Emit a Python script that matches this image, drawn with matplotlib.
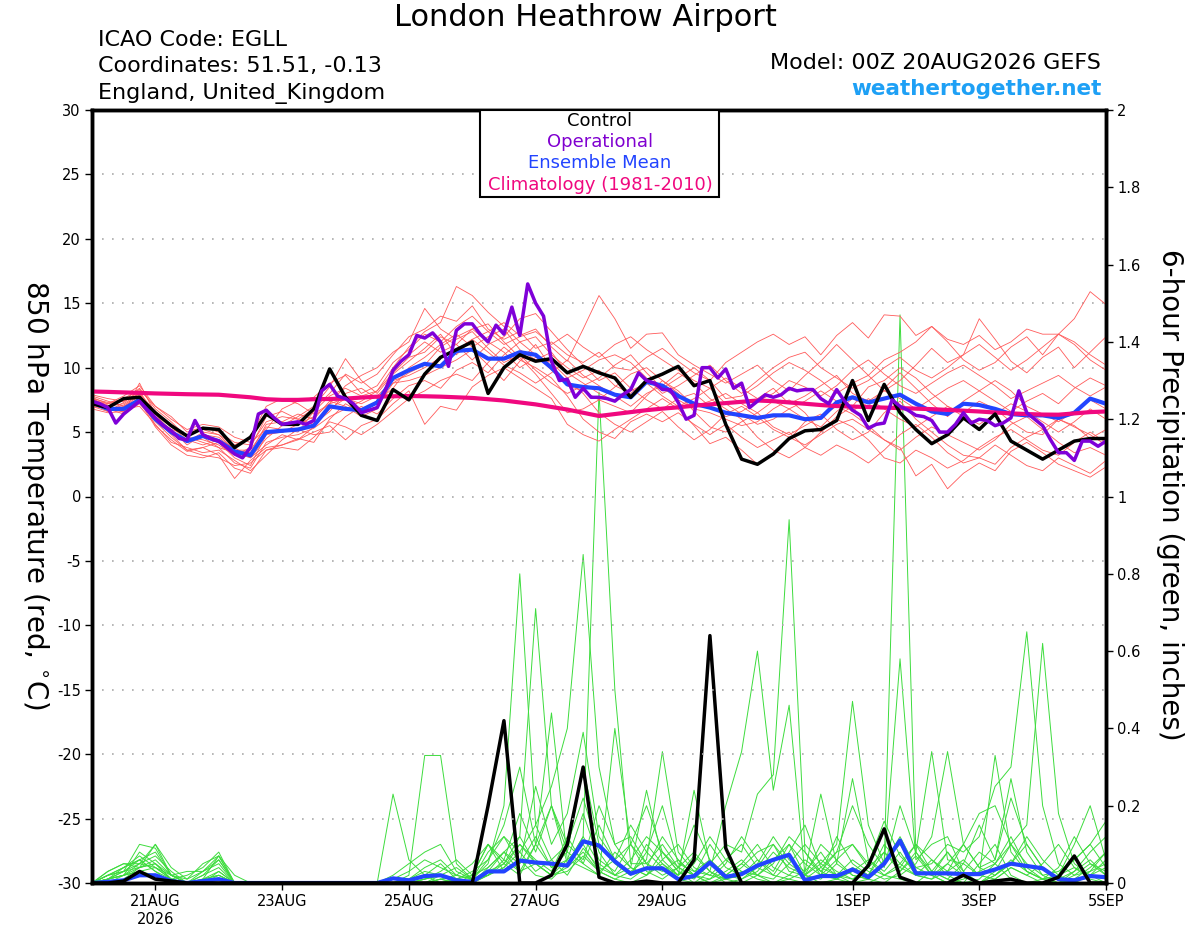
import numpy as np
import matplotlib
matplotlib.use("Agg")
import matplotlib.pyplot as plt
from matplotlib.patches import Rectangle

plt.rcParams['font.family'] = ['DejaVu Sans']
plt.rcParams['axes.unicode_minus'] = False

# x: 6-hourly GEFS steps and 3-hourly operational steps, in days after 20AUG 00Z
n6 = 65
n3 = 129
tick_days = [1, 3, 5, 7, 9, 12, 14, 16]
tick_labels = ["21AUG\n2026", "23AUG", "25AUG", "27AUG", "29AUG", "1SEP", "3SEP", "5SEP"]

# 850 hPa temperature (degC)
ctrl_temp = [7.2, 6.9, 7.6, 7.7, 6.5, 5.5, 4.7, 5.3, 5.2, 3.8, 4.6,
             6.4, 5.6, 5.6, 6.8, 9.9, 7.7, 6.3, 5.9, 8.3, 7.5,
             9.5, 10.8, 11.4, 12.0, 8.0, 10.0, 11.0, 10.5, 10.7, 9.6,
             10.1, 9.6, 9.2, 7.7, 9.0, 9.5, 10.1, 8.6, 9.0, 5.6,
             2.9, 2.5, 3.3, 4.5, 5.1, 5.2, 5.9, 9.0, 5.9, 8.7,
             6.5, 5.2, 4.1, 4.8, 6.1, 5.2, 6.4, 4.3, 3.6, 2.9, 3.6, 4.3, 4.5, 4.5]

mean_temp = [7.3, 6.8, 6.8, 7.5, 6.0, 5.0, 4.3, 4.7, 4.3, 3.5, 3.2,
             5.0, 5.1, 5.2, 5.5, 7.0, 6.8, 6.7, 7.3, 9.2, 9.8,
             10.3, 10.1, 11.3, 11.4, 10.7, 10.7, 11.2, 11.0, 10.0, 8.7,
             8.5, 8.4, 7.9, 7.7, 8.9, 8.6, 7.8, 7.2, 6.9, 6.5,
             6.3, 6.1, 6.3, 6.3, 6.0, 6.1, 7.3, 7.7, 7.3, 7.6,
             7.9, 7.2, 6.6, 6.4, 7.2, 7.1, 6.8, 6.4, 6.3, 6.3, 6.1, 6.5, 7.6, 7.2]

clim_temp = [8.15, 8.12, 8.08, 8.04, 8.0, 7.97, 7.94, 7.92, 7.9, 7.8, 7.7,
             7.55, 7.5, 7.5, 7.55, 7.57, 7.6, 7.68, 7.75, 7.78, 7.8,
             7.78, 7.75, 7.7, 7.65, 7.55, 7.45, 7.3, 7.15, 6.95, 6.75,
             6.5, 6.25, 6.4, 6.55, 6.7, 6.82, 6.92, 7.05, 7.15, 7.25,
             7.35, 7.45, 7.4, 7.3, 7.2, 7.1, 7.02, 6.98, 6.94, 6.9,
             6.86, 6.82, 6.78, 6.72, 6.66, 6.6, 6.52, 6.45, 6.4, 6.36, 6.35, 6.45, 6.55, 6.6]

oper_temp = [7.4, 7.2, 6.9, 5.7, 6.4, 6.9, 7.4, 6.7,
             6.1, 5.5, 5.1, 4.5, 4.4, 5.9, 4.8, 4.5,
             4.3, 3.8, 3.3, 3.0, 3.8, 6.4, 6.7, 6.1,
             5.6, 5.7, 5.8, 5.6, 5.9, 8.2, 8.7, 7.8,
             7.6, 7.2, 6.5, 6.7, 6.9, 8.2, 9.8, 10.5,
             11.0, 12.5, 12.3, 12.7, 12.0, 10.1, 12.9, 13.4,
             13.4, 12.6, 12.0, 13.3, 12.6, 14.7, 12.5, 16.5,
             15.0, 14.0, 10.5, 9.0, 9.1, 7.7, 8.4, 7.7,
             7.7, 7.6, 7.4, 7.9, 8.3, 9.6, 9.0, 8.8,
             8.3, 8.3, 7.3, 6.0, 6.3, 10.0, 10.0, 9.2,
             9.9, 8.4, 8.8, 6.9, 7.4, 7.9, 7.7, 7.9,
             8.4, 8.2, 8.3, 8.3, 7.6, 7.2, 8.3, 7.4,
             6.7, 6.3, 5.3, 5.6, 5.7, 7.5, 7.0, 6.7,
             6.3, 6.2, 5.9, 5.0, 5.0, 5.6, 6.5, 5.7,
             6.0, 5.9, 5.5, 5.7, 6.1, 8.2, 6.5, 6.0,
             5.5, 4.4, 3.4, 3.4, 2.8, 4.3, 4.3, 3.9,
             4.3]

ens_temp = [
    [7.5, 7.2, 7.8, 8.6, 7.0, 6.2, 5.0, 5.4, 5.0, 4.2, 4.0,
     5.8, 6.2, 6.0, 6.8, 8.0, 9.5, 8.8, 9.5, 11.0, 12.4,
     13.0, 14.0, 13.6, 14.8, 13.0, 12.2, 12.8, 11.5, 12.0, 11.0,
     10.4, 11.2, 10.0, 9.8, 10.8, 11.5, 10.5, 9.6, 9.0, 10.4,
     11.2, 12.0, 12.6, 11.8, 12.4, 11.0, 12.5, 13.5, 12.3, 14.1,
     14.0, 12.5, 13.2, 12.2, 11.8, 12.5, 11.4, 12.0, 13.0, 12.6, 12.6, 13.8, 15.9, 14.9],
    [7.0, 6.6, 7.3, 8.2, 6.2, 5.0, 4.2, 4.6, 3.8, 2.6, 2.2,
     4.2, 4.6, 4.8, 5.3, 6.2, 6.8, 7.4, 8.2, 10.0, 11.6,
     12.8, 13.5, 16.3, 15.6, 14.3, 13.2, 12.0, 12.4, 11.0, 10.0,
     9.2, 9.8, 8.6, 8.0, 9.0, 8.5, 7.5, 6.8, 6.5, 6.0,
     5.5, 5.8, 6.8, 7.5, 6.5, 5.0, 6.2, 7.0, 8.5, 9.0,
     10.0, 9.2, 8.0, 7.0, 6.5, 7.4, 6.8, 5.8, 5.0, 4.8, 6.0, 5.5, 4.5, 5.2],
    [7.8, 7.4, 7.0, 7.8, 5.5, 4.4, 3.5, 3.8, 3.2, 1.4, 2.8,
     3.8, 4.0, 4.5, 4.2, 6.0, 7.2, 6.5, 7.0, 8.8, 9.6,
     10.2, 11.6, 12.4, 13.0, 13.4, 12.0, 10.8, 9.5, 8.0, 6.5,
     6.8, 7.5, 8.5, 9.5, 10.0, 9.0, 8.2, 7.0, 7.4, 8.0,
     7.2, 6.5, 5.4, 4.8, 5.5, 6.2, 7.0, 6.4, 5.5, 4.4,
     3.8, 1.6, 2.5, 0.6, 1.8, 2.6, 2.0, 3.5, 4.2, 3.4, 2.5, 2.0, 1.5, 2.3],
    [7.6, 7.0, 7.2, 8.0, 6.6, 5.4, 4.4, 4.0, 4.4, 3.8, 3.0,
     4.5, 5.5, 6.2, 7.0, 8.5, 10.7, 9.0, 8.0, 9.5, 10.5,
     11.5, 12.6, 11.0, 12.2, 12.8, 13.5, 12.5, 13.0, 11.6, 10.5,
     13.0, 15.6, 13.8, 11.5, 12.6, 12.7, 11.0, 10.2, 9.5, 8.8,
     9.5, 10.2, 9.0, 8.2, 9.4, 10.5, 11.8, 10.6, 9.4, 8.2,
     9.0, 10.2, 11.5, 10.4, 11.0, 13.8, 12.2, 10.5, 9.6, 10.8, 11.6, 10.0, 11.2, 12.4],
    [7.0, 6.8, 6.4, 7.2, 5.8, 4.6, 3.6, 3.2, 3.0, 2.4, 2.6,
     3.6, 4.0, 4.4, 5.0, 5.5, 4.4, 5.5, 6.0, 7.2, 8.2,
     5.6, 7.0, 6.7, 8.5, 9.4, 10.0, 9.2, 8.4, 7.6, 5.6,
     4.8, 4.3, 5.2, 6.0, 6.8, 7.6, 6.8, 5.5, 4.1, 4.6,
     3.6, 2.5, 3.2, 4.4, 5.8, 6.4, 5.2, 4.4, 5.0, 6.5,
     7.4, 6.0, 5.0, 4.0, 3.2, 3.0, 2.5, 3.8, 4.6, 5.2, 6.0, 5.4, 4.8, 4.0],
    [7.3, 6.6, 7.0, 7.6, 6.2, 5.2, 4.0, 4.8, 4.6, 3.6, 3.4,
     5.6, 5.8, 6.4, 6.0, 7.4, 7.0, 6.2, 6.8, 9.8, 11.0,
     12.0, 11.2, 11.8, 10.6, 11.8, 12.4, 13.8, 14.2, 12.8, 11.4,
     10.2, 9.0, 9.6, 8.4, 7.5, 6.8, 7.6, 8.0, 7.0, 6.2,
     6.6, 7.4, 8.0, 9.0, 8.5, 7.8, 8.6, 9.8, 10.6, 9.5,
     8.6, 8.0, 8.8, 9.6, 10.2, 9.4, 8.6, 7.6, 8.2, 8.8, 9.4, 8.5, 7.8, 8.5],
    [7.7, 7.2, 7.4, 8.4, 6.8, 5.8, 4.6, 4.4, 4.0, 3.2, 3.8,
     6.2, 6.6, 6.0, 5.6, 6.6, 8.0, 8.4, 7.6, 8.8, 9.0,
     9.4, 10.0, 10.6, 11.4, 10.2, 9.0, 10.5, 11.8, 10.0, 8.6,
     8.2, 7.5, 7.0, 6.5, 7.8, 9.0, 8.0, 6.6, 5.4, 5.0,
     5.8, 6.5, 7.4, 6.8, 6.0, 5.4, 6.6, 7.6, 7.0, 8.4,
     9.6, 8.4, 7.2, 6.2, 7.4, 8.2, 9.0, 8.2, 7.0, 6.4, 5.8, 6.6, 7.5, 6.8],
    [7.1, 6.9, 6.8, 7.0, 5.6, 4.2, 3.8, 3.4, 3.6, 2.8, 2.0,
     3.2, 4.4, 5.2, 4.8, 5.0, 6.2, 7.0, 6.4, 7.6, 8.6,
     9.0, 8.4, 9.8, 10.4, 9.6, 11.0, 12.0, 11.0, 9.8, 9.0,
     8.0, 6.5, 5.6, 5.0, 5.8, 6.6, 5.4, 4.4, 5.2, 6.4,
     7.0, 6.2, 5.2, 4.6, 4.0, 4.8, 5.6, 6.0, 5.2, 4.4,
     3.6, 4.6, 5.4, 4.8, 4.2, 3.6, 4.4, 5.6, 6.2, 5.2, 4.2, 3.4, 3.8, 3.2],
    [7.5, 7.1, 6.5, 8.8, 6.4, 5.0, 4.2, 5.0, 4.8, 4.0, 4.6,
     7.0, 7.6, 7.2, 6.4, 7.2, 8.6, 9.4, 10.0, 11.2, 12.0,
     14.6, 13.0, 12.2, 12.8, 11.5, 10.4, 11.0, 9.8, 8.8, 8.0,
     8.6, 9.2, 10.2, 11.0, 9.6, 8.4, 9.2, 10.0, 9.0, 7.6,
     7.8, 8.6, 9.6, 10.4, 9.8, 9.0, 8.0, 8.8, 9.4, 10.6,
     11.2, 12.0, 13.2, 12.0, 10.6, 9.8, 10.4, 11.6, 12.4, 11.0, 12.6, 11.8, 10.6, 9.8],
    [6.8, 6.5, 6.6, 7.4, 5.4, 4.0, 3.2, 3.0, 3.4, 2.2, 1.8,
     3.6, 3.8, 3.6, 4.6, 5.8, 5.4, 4.8, 5.6, 6.6, 7.6,
     8.2, 9.0, 9.5, 9.0, 10.4, 11.6, 10.6, 10.0, 9.2, 7.8,
     6.0, 5.0, 4.5, 5.8, 6.4, 5.8, 6.5, 5.6, 4.8, 5.6,
     4.6, 3.8, 4.4, 5.0, 3.8, 3.2, 4.0, 3.4, 2.6, 3.6,
     4.8, 5.6, 4.6, 3.4, 2.6, 3.0, 4.0, 3.2, 2.4, 2.0, 3.0, 2.4, 1.8, 2.8],
    [7.4, 7.0, 7.6, 8.3, 7.0, 6.0, 5.2, 5.6, 5.4, 4.6, 4.2,
     5.2, 6.8, 7.4, 7.7, 8.8, 9.4, 8.0, 8.6, 10.4, 11.4,
     12.6, 12.0, 13.2, 14.0, 12.8, 11.8, 12.4, 12.8, 11.8, 12.6,
     11.6, 10.8, 11.8, 12.4, 11.4, 10.6, 9.8, 9.0, 8.4, 9.2,
     8.4, 7.6, 8.4, 7.2, 7.8, 8.6, 9.4, 8.0, 7.4, 8.2,
     7.6, 6.8, 7.6, 8.4, 9.0, 8.2, 7.4, 6.6, 7.4, 8.0, 7.2, 8.4, 9.2, 8.6],
    [7.2, 6.7, 7.1, 7.9, 6.0, 4.8, 3.6, 3.8, 4.2, 3.0, 2.4,
     4.8, 5.0, 5.6, 6.2, 7.2, 7.6, 6.8, 7.4, 8.4, 10.0,
     10.8, 11.8, 12.6, 11.6, 12.4, 13.0, 11.4, 10.6, 11.2, 9.6,
     8.8, 8.0, 7.4, 8.2, 8.8, 7.8, 7.0, 7.6, 8.4, 7.2,
     6.4, 5.6, 6.0, 6.8, 7.4, 8.2, 7.4, 6.6, 7.6, 6.8,
     6.0, 5.4, 6.2, 7.0, 6.2, 5.6, 6.4, 7.2, 6.6, 5.8, 5.0, 5.8, 6.8, 6.0],
    [7.6, 7.3, 7.5, 7.7, 6.4, 5.6, 4.6, 4.2, 3.8, 3.4, 3.0,
     4.0, 4.8, 4.4, 5.4, 6.8, 7.6, 7.2, 7.8, 9.0, 9.4,
     10.0, 10.8, 11.4, 12.2, 11.2, 10.2, 9.6, 8.8, 9.6, 10.6,
     9.4, 8.6, 7.8, 7.0, 8.0, 8.6, 9.6, 8.8, 7.6, 6.8,
     6.0, 4.6, 3.6, 3.0, 3.8, 5.0, 6.0, 5.4, 4.4, 3.0,
     2.6, 3.6, 3.0, 2.2, 2.8, 3.8, 4.6, 5.2, 4.4, 3.6, 3.2, 4.2, 5.0, 4.2],
    [7.9, 7.6, 7.4, 8.0, 6.0, 5.2, 4.8, 5.2, 4.8, 3.6, 3.6,
     5.4, 5.2, 5.0, 6.6, 7.8, 8.4, 7.8, 8.2, 9.6, 10.8,
     11.2, 12.4, 11.8, 13.0, 12.0, 11.2, 10.0, 10.8, 10.4, 9.2,
     9.8, 10.6, 11.0, 10.4, 9.2, 8.0, 8.6, 9.4, 10.2, 9.0,
     8.0, 9.0, 10.0, 10.8, 11.2, 10.0, 9.2, 8.4, 9.0, 10.0,
     10.8, 9.8, 9.2, 10.0, 11.0, 11.8, 10.8, 9.8, 10.6, 11.6, 12.6, 12.0, 11.0, 10.2],
]

# 6-hour precipitation (inches)
ctrl_precip = [0, 0, 0.005, 0.03, 0.01, 0.005, 0, 0, 0, 0, 0,
               0, 0, 0, 0, 0, 0, 0, 0, 0, 0,
               0, 0, 0, 0, 0.2, 0.42, 0, 0, 0.02, 0.10,
               0.30, 0.015, 0, 0, 0.005, 0, 0, 0.06, 0.64, 0.09,
               0, 0, 0, 0, 0, 0, 0, 0, 0.045, 0.14,
               0.015, 0, 0, 0, 0.02, 0, 0.005, 0.01, 0, 0, 0.015, 0.07, 0, 0]

mean_precip = [0, 0.003, 0.007, 0.02, 0.02, 0.005, 0, 0.005, 0.01, 0, 0,
               0, 0, 0, 0, 0, 0, 0, 0, 0.012, 0.007,
               0.018, 0.02, 0.007, 0.003, 0.03, 0.03, 0.058, 0.053, 0.05, 0.045,
               0.108, 0.097, 0.056, 0.024, 0.038, 0.038, 0.01, 0.018, 0.053, 0.016,
               0.023, 0.045, 0.06, 0.073, 0.007, 0.018, 0.018, 0.035, 0.015, 0.05,
               0.11, 0.025, 0.025, 0.025, 0.023, 0.023, 0.035, 0.05, 0.044, 0.038, 0.01, 0.007, 0.018, 0.015]

ens_precip = [
    [0, 0.02, 0.04, 0.06, 0.03, 0.01, 0, 0, 0, 0, 0,
     0, 0, 0, 0, 0, 0, 0, 0, 0, 0,
     0.02, 0.05, 0.01, 0, 0.04, 0.08, 0.12, 0.05, 0.02, 0.06,
     0.1, 0.03, 0.01, 0, 0.02, 0.05, 0.01, 0, 0.03, 0.01,
     0, 0.02, 0.06, 0.1, 0.02, 0, 0.01, 0.04, 0.02, 0.05,
     1.47, 0.08, 0.02, 0, 0.01, 0.03, 0.05, 0.01, 0, 0, 0.02, 0.04, 0.01, 0],
    [0, 0.01, 0.03, 0.1, 0.09, 0.02, 0, 0.01, 0.07, 0, 0,
     0, 0, 0, 0, 0, 0, 0, 0, 0, 0,
     0, 0.01, 0, 0, 0.02, 0.06, 0.03, 0.1, 0.2, 0.05,
     0.12, 1.27, 0.5, 0.05, 0.05, 0.1, 0.04, 0.02, 0, 0.01,
     0.03, 0.01, 0, 0.02, 0.06, 0.03, 0.01, 0, 0, 0.02,
     0.05, 0.1, 0.03, 0.01, 0, 0, 0.02, 0.06, 0.03, 0.01, 0, 0.01, 0.02, 0],
    [0, 0.03, 0.05, 0.04, 0.06, 0.02, 0, 0, 0.02, 0, 0,
     0, 0, 0, 0, 0, 0, 0, 0, 0.23, 0.06,
     0.02, 0, 0.01, 0.03, 0.06, 0.12, 0.08, 0.15, 0.25, 0.4,
     0.85, 0.3, 0.1, 0.04, 0.02, 0.08, 0.03, 0, 0.01, 0.05,
     0.12, 0.06, 0.02, 0.01, 0, 0.02, 0.06, 0.1, 0.04, 0.02,
     0.01, 0, 0.03, 0.08, 0.02, 0, 0.01, 0.04, 0.02, 0, 0, 0.03, 0.06, 0.02],
    [0, 0.01, 0.02, 0.08, 0.05, 0.01, 0, 0.03, 0.05, 0, 0,
     0, 0, 0, 0, 0, 0, 0, 0, 0.02, 0.05,
     0.08, 0.1, 0.03, 0.01, 0.05, 0.2, 0.80, 0.15, 0.06, 0.1,
     0.22, 0.08, 0.02, 0.01, 0.04, 0.12, 0.06, 0.02, 0, 0.02,
     0.05, 0.02, 0, 0.01, 0.03, 0.08, 0.02, 0, 0.01, 0,
     0.03, 0.07, 0.02, 0, 0, 0.05, 0.1, 0.02, 0, 0.01, 0.02, 0, 0.03, 0.05],
    [0, 0.02, 0.03, 0.05, 0.07, 0.03, 0, 0.02, 0.06, 0, 0,
     0, 0, 0, 0, 0, 0, 0, 0, 0, 0,
     0.01, 0.03, 0.06, 0.02, 0.1, 0.05, 0.12, 0.71, 0.2, 0.08,
     0.05, 0.15, 0.06, 0.02, 0.1, 0.05, 0.02, 0.07, 0.03, 0,
     0.01, 0.04, 0.1, 0.05, 0.02, 0.01, 0.05, 0.27, 0.06, 0.03,
     0.08, 0.02, 0.01, 0.05, 0.02, 0, 0.03, 0.1, 0.05, 0.02, 0, 0.01, 0.04, 0.08],
    [0, 0, 0.01, 0.04, 0.05, 0.02, 0, 0, 0.03, 0, 0,
     0, 0, 0, 0, 0, 0, 0, 0, 0, 0,
     0, 0.02, 0.01, 0, 0.02, 0.04, 0.08, 0.03, 0.06, 0.02,
     0.09, 0.04, 0.02, 0.06, 0.12, 0.08, 0.03, 0.01, 0.05, 0.1,
     0.08, 0.23, 0.28, 0.94, 0.08, 0.02, 0.01, 0.03, 0.06, 0.02,
     0.04, 0.1, 0.06, 0.02, 0, 0.01, 0.05, 0.12, 0.04, 0.01, 0, 0.02, 0.05, 0.03],
    [0, 0.01, 0.02, 0.03, 0.04, 0.01, 0.02, 0.04, 0.08, 0, 0,
     0, 0, 0, 0, 0, 0, 0, 0, 0, 0.01,
     0.03, 0.02, 0, 0.01, 0.03, 0.05, 0.02, 0.1, 0.44, 0.06,
     0.04, 0.02, 0.4, 0.1, 0.03, 0.01, 0.04, 0.08, 0.03, 0.2,
     0.34, 0.60, 0.24, 0.46, 0.02, 0.1, 0.06, 0.02, 0.01, 0.05,
     0.12, 0.04, 0.02, 0.08, 0.03, 0, 0.02, 0.05, 0.1, 0.04, 0.01, 0, 0.02, 0.04],
    [0, 0.02, 0.03, 0.06, 0.03, 0, 0, 0.01, 0.02, 0, 0,
     0, 0, 0, 0, 0, 0, 0, 0, 0, 0,
     0, 0.01, 0.02, 0.05, 0.1, 0.03, 0.06, 0.02, 0.01, 0.05,
     0.12, 0.05, 0.02, 0.04, 0.24, 0.06, 0.02, 0.24, 0.05, 0.01,
     0.02, 0.05, 0.12, 0.06, 0.03, 0.23, 0.05, 0.02, 0.01, 0.06,
     0.1, 0.04, 0.05, 0.1, 0.08, 0.12, 0.25, 0.3, 0.65, 0.2, 0.05, 0.02, 0.03, 0.08],
    [0, 0, 0.02, 0.04, 0.1, 0.04, 0.01, 0.03, 0.07, 0.02, 0,
     0, 0, 0, 0, 0, 0, 0, 0, 0, 0,
     0, 0, 0.01, 0.02, 0.04, 0.08, 0.03, 0.05, 0.02, 0.03,
     0.07, 0.03, 0.01, 0.03, 0.06, 0.34, 0.08, 0.03, 0.06, 0.02,
     0.01, 0.03, 0.08, 0.04, 0.02, 0.05, 0.1, 0.47, 0.15, 0.05,
     0.58, 0.06, 0.1, 0.12, 0.03, 0.08, 0.05, 0.1, 0.15, 0.62, 0.18, 0.05, 0.02, 0.06],
    [0, 0.01, 0.02, 0.03, 0.02, 0, 0, 0.01, 0.02, 0, 0,
     0, 0, 0, 0, 0, 0, 0, 0, 0, 0.02,
     0.33, 0.33, 0.05, 0.01, 0.02, 0.05, 0.1, 0.05, 0.02, 0.04,
     0.08, 0.03, 0.06, 0.1, 0.05, 0.03, 0.06, 0.02, 0.01, 0.03,
     0.06, 0.02, 0.01, 0.05, 0.1, 0.05, 0.02, 0.01, 0.04, 0.08,
     0.03, 0.08, 0.34, 0.06, 0.05, 0.02, 0.33, 0.08, 0.03, 0.01, 0.02, 0.06, 0.1, 0.16],
    [0, 0.01, 0.04, 0.06, 0.08, 0.02, 0, 0, 0.01, 0, 0,
     0, 0, 0, 0, 0, 0, 0, 0, 0, 0,
     0.01, 0.02, 0.04, 0.01, 0.06, 0.15, 0.3, 0.1, 0.04, 0.08,
     0.3, 0.1, 0.05, 0.02, 0.08, 0.2, 0.05, 0.03, 0.02, 0.06,
     0.1, 0.04, 0.02, 0.08, 0.15, 0.04, 0.02, 0.06, 0.03, 0.01,
     0.02, 0.05, 0.12, 0.34, 0.1, 0.04, 0.06, 0.27, 0.08, 0.02, 0.03, 0.06, 0.1, 0.04],
    [0, 0.02, 0.04, 0.07, 0.04, 0.01, 0, 0.02, 0.04, 0, 0,
     0, 0, 0, 0, 0, 0, 0, 0, 0.01, 0.03,
     0.06, 0.04, 0.02, 0.01, 0.08, 0.12, 0.05, 0.25, 0.1, 0.18,
     0.39, 0.12, 0.06, 0.15, 0.08, 0.04, 0.02, 0.05, 0.12, 0.06,
     0.03, 0.02, 0.05, 0.12, 0.08, 0.03, 0.08, 0.1, 0.05, 0.16,
     0.07, 0.03, 0.02, 0.05, 0.1, 0.18, 0.2, 0.1, 0.03, 0.01, 0.04, 0.12, 0.05, 0.02],
    [0, 0.03, 0.05, 0.05, 0.04, 0.02, 0.01, 0.05, 0.07, 0, 0,
     0, 0, 0, 0, 0, 0, 0, 0, 0, 0,
     0, 0.01, 0, 0.02, 0.1, 0.06, 0.18, 0.08, 0.2, 0.1,
     0.06, 0.2, 0.1, 0.12, 0.05, 0.02, 0.04, 0.15, 0.06, 0.02,
     0.05, 0.1, 0.04, 0.02, 0.01, 0.04, 0.08, 0.2, 0.1, 0.04,
     0.2, 0.08, 0.03, 0.01, 0.05, 0.15, 0.06, 0.22, 0.1, 0.04, 0.01, 0.03, 0.08, 0.12],
    [0, 0.01, 0.03, 0.04, 0.05, 0.01, 0, 0.01, 0.03, 0, 0,
     0, 0, 0, 0, 0, 0, 0, 0, 0, 0,
     0.01, 0.02, 0.01, 0, 0.03, 0.08, 0.05, 0.12, 0.04, 0.06,
     0.18, 0.06, 0.03, 0.1, 0.2, 0.08, 0.04, 0.02, 0.1, 0.04,
     0.02, 0.06, 0.03, 0.1, 0.05, 0.02, 0.12, 0.05, 0.02, 0.1,
     0.05, 0.02, 0.06, 0.03, 0.1, 0.04, 0.02, 0.05, 0.12, 0.06, 0.02, 0.1, 0.2, 0.06],
    [0, 0.01, 0.02, 0.05, 0.1, 0.02, 0.03, 0.03, 0.06, 0, 0,
     0, 0, 0, 0, 0, 0, 0, 0, 0, 0.01,
     0.04, 0.06, 0.02, 0.01, 0.02, 0.04, 0.1, 0.06, 0.03, 0.12,
     0.05, 0.02, 0.08, 0.04, 0.02, 0.06, 0.1, 0.04, 0.02, 0.01,
     0.04, 0.08, 0.1, 0.03, 0.02, 0.06, 0.03, 0.01, 0.02, 0.08,
     0.04, 0.02, 0.01, 0.03, 0.06, 0.02, 0.01, 0.04, 0.02, 0.05, 0.1, 0.04, 0.02, 0.01],
]

days6 = np.arange(n6) / 4.0
days3 = np.arange(n3) / 8.0

fig = plt.figure(figsize=(12, 9.27), dpi=100)
ax = fig.add_axes([92 / 1200, 44 / 927, 1014 / 1200, 773 / 927])
ax2 = ax.twinx()
ax.set_zorder(ax2.get_zorder() + 1)
ax.patch.set_visible(False)

# precipitation (right axis)
for p in ens_precip:
    ax2.plot(days6, p, color='#3ddc3d', lw=0.7)
ax2.plot(days6, mean_precip, color='#2244ff', lw=3)
ax2.plot(days6, ctrl_precip, color='black', lw=2.5)

# temperature (left axis)
for t in ens_temp:
    ax.plot(days6, t, color='#ff5a5a', lw=0.6)
ax.plot(days6, mean_temp, color='#2244ff', lw=3)
ax.plot(days6, clim_temp, color='#f0087f', lw=3)
ax.plot(days6, ctrl_temp, color='black', lw=2.5)
ax.plot(days3, oper_temp, color='#7f00d8', lw=2.5)

ax.set_xlim(0, 16)
ax.set_ylim(-30, 30)
ax2.set_ylim(0, 2)

ax.set_yticks(range(-30, 31, 5))
ax.yaxis.grid(True, color='#aaaaaa', lw=1.2, ls=(0, (1, 5)))
ax.set_axisbelow(True)
ax.set_xticks(tick_days)
ax.set_xticklabels(tick_labels)
ax.tick_params(axis='both', direction='out', length=5, width=1, labelsize=10.5, pad=3)

ax2.set_yticks(np.arange(0, 2.01, 0.2))
ax2.set_yticklabels([f"{v:g}" for v in np.arange(0, 2.01, 0.2)])
ax2.tick_params(axis='y', direction='out', length=5, width=1, labelsize=10.5, pad=3)

for a in (ax, ax2):
    for s in a.spines.values():
        s.set_linewidth(2.5)

# legend box
ax.add_patch(Rectangle((0.3826, 0.8875), 0.2357, 0.1125, transform=ax.transAxes,
                       facecolor='white', edgecolor='black', lw=1.5, zorder=5))
leg = [("Control", 'black', 0.986), ("Operational", '#8000d0', 0.959),
       ("Ensemble Mean", '#2244ff', 0.931), ("Climatology (1981-2010)", '#f0087f', 0.903)]
for txt, col, yy in leg:
    ax.text(0.501, yy, txt, color=col, fontsize=13, ha='center', va='center',
            transform=ax.transAxes, zorder=6)

# header texts
fig.text(0.4875, 0.981, "London Heathrow Airport", fontsize=22, ha='center', va='center')
fig.text(98 / 1200, 1 - 40 / 927, "ICAO Code: EGLL", fontsize=16, ha='left', va='center')
fig.text(98 / 1200, 1 - 66 / 927, "Coordinates: 51.51, -0.13", fontsize=16, ha='left', va='center')
fig.text(98 / 1200, 1 - 93 / 927, "England, United_Kingdom", fontsize=16, ha='left', va='center')
fig.text(1101 / 1200, 1 - 63 / 927, "Model: 00Z 20AUG2026 GEFS", fontsize=16, ha='right', va='center')
fig.text(1102 / 1200, 1 - 89 / 927, "weathertogether.net", fontsize=15.5, fontweight='bold',
         color='#1ea0f5', ha='right', va='center')

fig.text(35 / 1200, 1 - 495 / 927, "850 hPa Temperature (red, $^{\\circ}$C)", fontsize=20,
         rotation=-90, ha='center', va='center')
fig.text(1170 / 1200, 1 - 495 / 927, "6-hour Precipitation (green, inches)", fontsize=20,
         rotation=-90, ha='center', va='center')

fig.savefig("out.png", dpi=100)
